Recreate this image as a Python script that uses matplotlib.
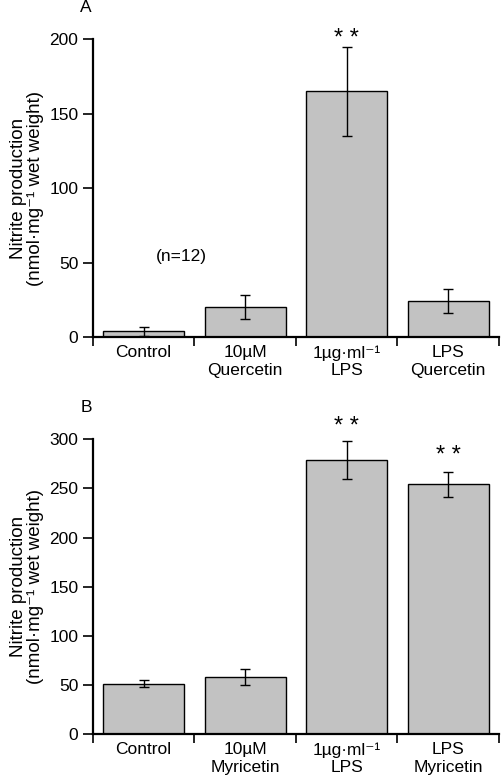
import numpy as np
import matplotlib.pyplot as plt

plt.rcParams['font.family'] = ['Liberation Sans', 'DejaVu Sans']
plt.rcParams['font.size'] = 12.5

# panel A - quercetin
cats_a = ['Control', '10µM\nQuercetin', '1µg·ml⁻¹\nLPS', 'LPS\nQuercetin']
vals_a = [4, 20, 165, 24]
errs_a = [3, 8, 30, 8]

# panel B - myricetin
cats_b = ['Control', '10µM\nMyricetin', '1µg·ml⁻¹\nLPS', 'LPS\nMyricetin']
vals_b = [51, 58, 279, 254]
errs_b = [3.5, 8, 19, 13]

ylabel = 'Nitrite production\n(nmol·mg⁻¹ wet weight)'

fig = plt.figure(figsize=(5.02, 7.84), dpi=100)
ax_a = fig.add_axes([0.185, 0.570, 0.809, 0.380])
ax_b = fig.add_axes([0.185, 0.0638, 0.809, 0.3759])


def draw_panel(ax, cats, vals, errs, ymax, step, stars):
    x = np.arange(len(cats))
    ax.bar(x, vals, width=0.8, color='#c2c2c2', edgecolor='black', linewidth=1.0, zorder=2)
    ax.errorbar(x, vals, yerr=errs, fmt='none', ecolor='black', elinewidth=1.0,
                capsize=3.3, capthick=1.0, zorder=3)
    ax.set_xlim(-0.5, len(cats) - 0.5)
    ax.set_ylim(0, ymax)
    ax.set_yticks(np.arange(0, ymax + 1, step))
    ax.set_xticks(x)
    ax.set_xticklabels(cats, linespacing=1.2)
    ax.set_xticks(np.arange(-0.5, len(cats), 1.0), minor=True)
    ax.tick_params(axis='x', which='major', length=0, pad=6)
    ax.tick_params(axis='x', which='minor', length=6.5, width=1.2, direction='out')
    ax.tick_params(axis='y', length=7.5, width=1.2, direction='out', pad=3)
    for s in ['top', 'right']:
        ax.spines[s].set_visible(False)
    ax.spines['left'].set_linewidth(1.6)
    ax.spines['bottom'].set_linewidth(1.6)
    ax.spines['left'].set_bounds(0, ymax)
    ax.set_ylabel(ylabel, fontsize=13.5, linespacing=1.0, labelpad=4)
    for i, yy in stars:
        ax.text(i, yy, '* *', ha='center', va='center', fontsize=17, clip_on=False)


draw_panel(ax_a, cats_a, vals_a, errs_a, 200, 50, [(2, 200)])
ax_a.text(0.37, 54, '(n=12)', ha='center', va='center')
fig.text(86 / 502, 1 - 8 / 784, 'A', ha='center', va='center', fontsize=12.5)

draw_panel(ax_b, cats_b, vals_b, errs_b, 300, 50, [(2, 312), (3, 283)])
fig.text(86 / 502, 1 - 408 / 784, 'B', ha='center', va='center', fontsize=12.5)

fig.savefig('out.png', dpi=100)
